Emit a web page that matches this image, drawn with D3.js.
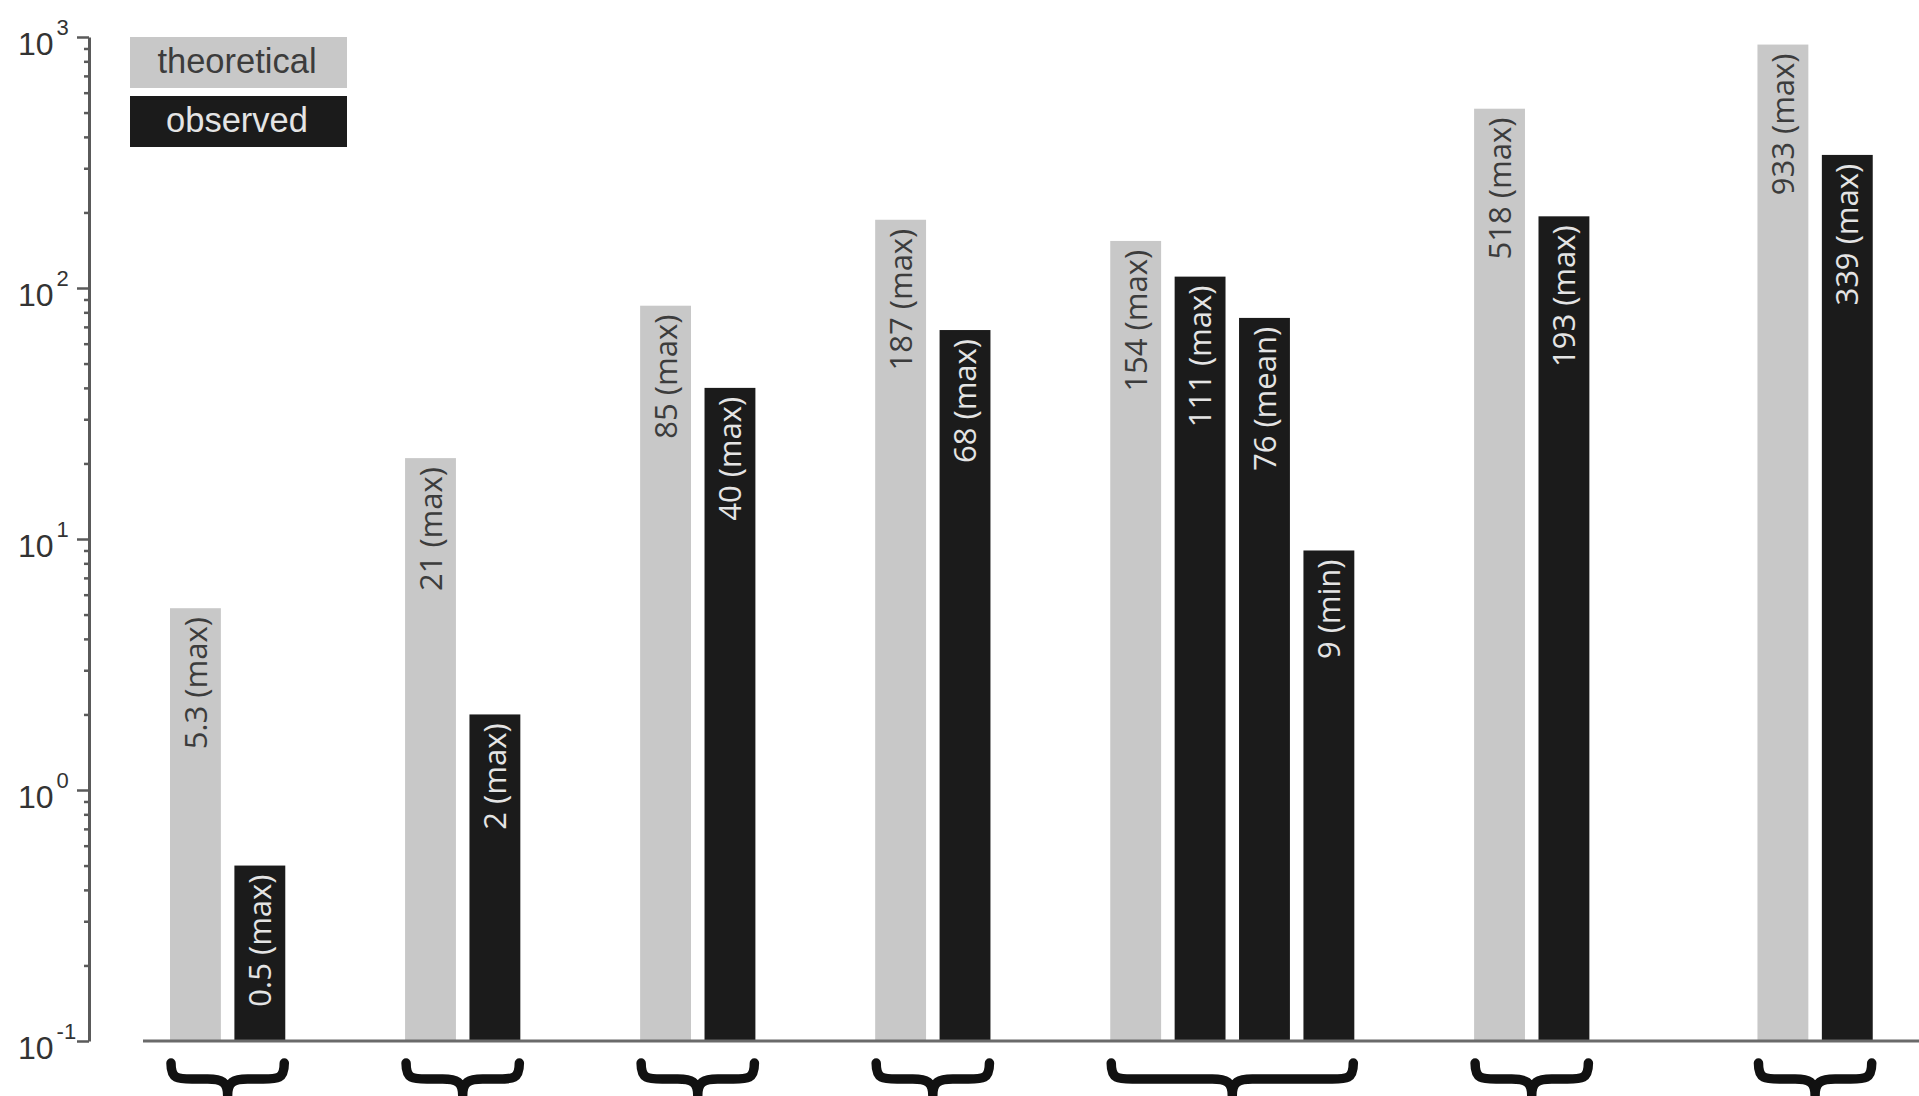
<!DOCTYPE html>
<html>
<head>
<meta charset="utf-8">
<script src="https://cdn.jsdelivr.net/npm/d3@7"></script>
<style>
  html, body { margin: 0; padding: 0; background: #ffffff; }
  svg { display: block; }
</style>
</head>
<body>
<svg id="chart" width="1919" height="1096"></svg>
<script>
// ---- data ----
const seriesNames = ["theoretical", "observed"];
const theoreticalValues = [5.3, 21, 85, 187, 154, 518, 933];
const theoreticalStats = ["max", "max", "max", "max", "max", "max", "max"];
const observedValues = [[0.5], [2], [40], [68], [111, 76, 9], [193], [339]];
const observedStats = [["max"], ["max"], ["max"], ["max"], ["max", "mean", "min"], ["max"], ["max"]];
const yTickExponents = [-1, 0, 1, 2, 3];

// ---- styles ----
const colors = { theoretical: "#c8c8c8", observed: "#1b1b1b" };
const labelColors = { theoretical: "#3c3c3c", observed: "#e4e4e4" };
const axisColor = "#5a5a5a";

const svg = d3.select("#chart");

// log-scaled value axis
const y = d3.scaleLog().domain([0.1, 1000]).range([1041, 37]);

// bars laid out in slots; groups separated by a gap, wider before the last group
const bars = [];
const groupSpans = [];
let cursor = 0;
theoreticalValues.forEach((tv, g) => {
  if (g > 0) cursor += (g === theoreticalValues.length - 1 ? 2.4 : 1.65);
  const start = cursor;
  bars.push({ g, series: "theoretical", value: tv, stat: theoreticalStats[g], slot: cursor++ });
  observedValues[g].forEach((ov, i) => {
    bars.push({ g, series: "observed", value: ov, stat: observedStats[g][i], slot: cursor++ });
  });
  groupSpans.push([start, cursor - 1]);
});

const unit = 64.4;
const x = d3.scaleLinear().domain([0, cursor]).range([170, 170 + cursor * unit]);
const bw = unit * 0.79;

// bars
svg.append("g").selectAll("rect").data(bars).join("rect")
  .attr("x", d => x(d.slot))
  .attr("width", bw)
  .attr("y", d => y(d.value))
  .attr("height", d => y(0.1) - y(d.value))
  .attr("fill", d => colors[d.series]);

// rotated value labels inside the bar tops
svg.append("g").selectAll("text").data(bars).join("text")
  .attr("transform", d => `translate(${x(d.slot) + bw / 2},${y(d.value) + 9}) rotate(-90)`)
  .attr("text-anchor", "end")
  .attr("dy", "0.36em")
  .attr("font-family", "'Open Sans', sans-serif")
  .attr("font-size", 31)
  .attr("fill", d => labelColors[d.series])
  .text(d => `${d.value} (${d.stat})`);

// x baseline
svg.append("line")
  .attr("x1", 143).attr("x2", 1919)
  .attr("y1", y(0.1)).attr("y2", y(0.1))
  .attr("stroke", "#6a6a6a").attr("stroke-width", 3);

// y axis: major ticks at decades, minor ticks in between
const majorTicks = yTickExponents.map(e => Math.pow(10, e));
const minorTicks = [];
yTickExponents.slice(0, -1).forEach(e => {
  for (let k = 2; k <= 9; k++) minorTicks.push(k * Math.pow(10, e));
});

const yAxisG = svg.append("g").attr("transform", "translate(89,0)");
yAxisG.call(d3.axisLeft(y).tickValues(majorTicks).tickSize(12).tickSizeOuter(0).tickFormat(""));
yAxisG.append("g").call(d3.axisLeft(y).tickValues(minorTicks).tickSize(5).tickSizeOuter(0).tickFormat(""))
  .select(".domain").remove();
yAxisG.selectAll(".domain").attr("stroke", axisColor).attr("stroke-width", 3);
yAxisG.selectAll(".tick line").attr("stroke", axisColor).attr("stroke-width", 2.5);

// decade labels with superscript exponents
const tickLabels = svg.append("g")
  .attr("font-family", "'Liberation Sans', Arial, sans-serif")
  .attr("fill", "#333");
yTickExponents.forEach(e => {
  const ty = y(Math.pow(10, e));
  const t = tickLabels.append("text")
    .attr("x", 18).attr("y", ty + 18);
  t.append("tspan").attr("font-size", 32).text("10");
  t.append("tspan").attr("font-size", 22).attr("dx", 3).attr("dy", -20).text(e);
});

// legend
const legend = svg.append("g");
const legendItems = [
  { name: seriesNames[0], y: 37 },
  { name: seriesNames[1], y: 96 }
];
legendItems.forEach(it => {
  legend.append("rect")
    .attr("x", 130).attr("y", it.y)
    .attr("width", 217).attr("height", 51)
    .attr("fill", colors[it.name]);
  legend.append("text")
    .attr("x", 237).attr("y", it.y + 36)
    .attr("text-anchor", "middle")
    .attr("font-family", "'Liberation Sans', Arial, sans-serif")
    .attr("font-size", 34.5)
    .attr("fill", labelColors[it.name])
    .text(it.name);
});

// curly braces under each group
const braceTop = 1063, braceMid = 1079, braceTip = 1095;
svg.append("g").selectAll("path").data(groupSpans).join("path")
  .attr("d", ([s, e]) => {
    const a = x(s) + 1, b = x(e) + bw - 1, c = (a + b) / 2;
    return `M${a},${braceTop} C${a},${braceMid + 2} ${a + 8},${braceMid} ${a + 28},${braceMid}` +
      ` L${c - 20},${braceMid} C${c - 6},${braceMid} ${c},${braceMid + 3} ${c},${braceTip}` +
      ` C${c},${braceMid + 3} ${c + 6},${braceMid} ${c + 20},${braceMid}` +
      ` L${b - 28},${braceMid} C${b - 8},${braceMid} ${b},${braceMid + 2} ${b},${braceTop}`;
  })
  .attr("fill", "none")
  .attr("stroke", "#111")
  .attr("stroke-width", 9.5)
  .attr("stroke-linecap", "round")
  .attr("stroke-linejoin", "round");
</script>
</body>
</html>
